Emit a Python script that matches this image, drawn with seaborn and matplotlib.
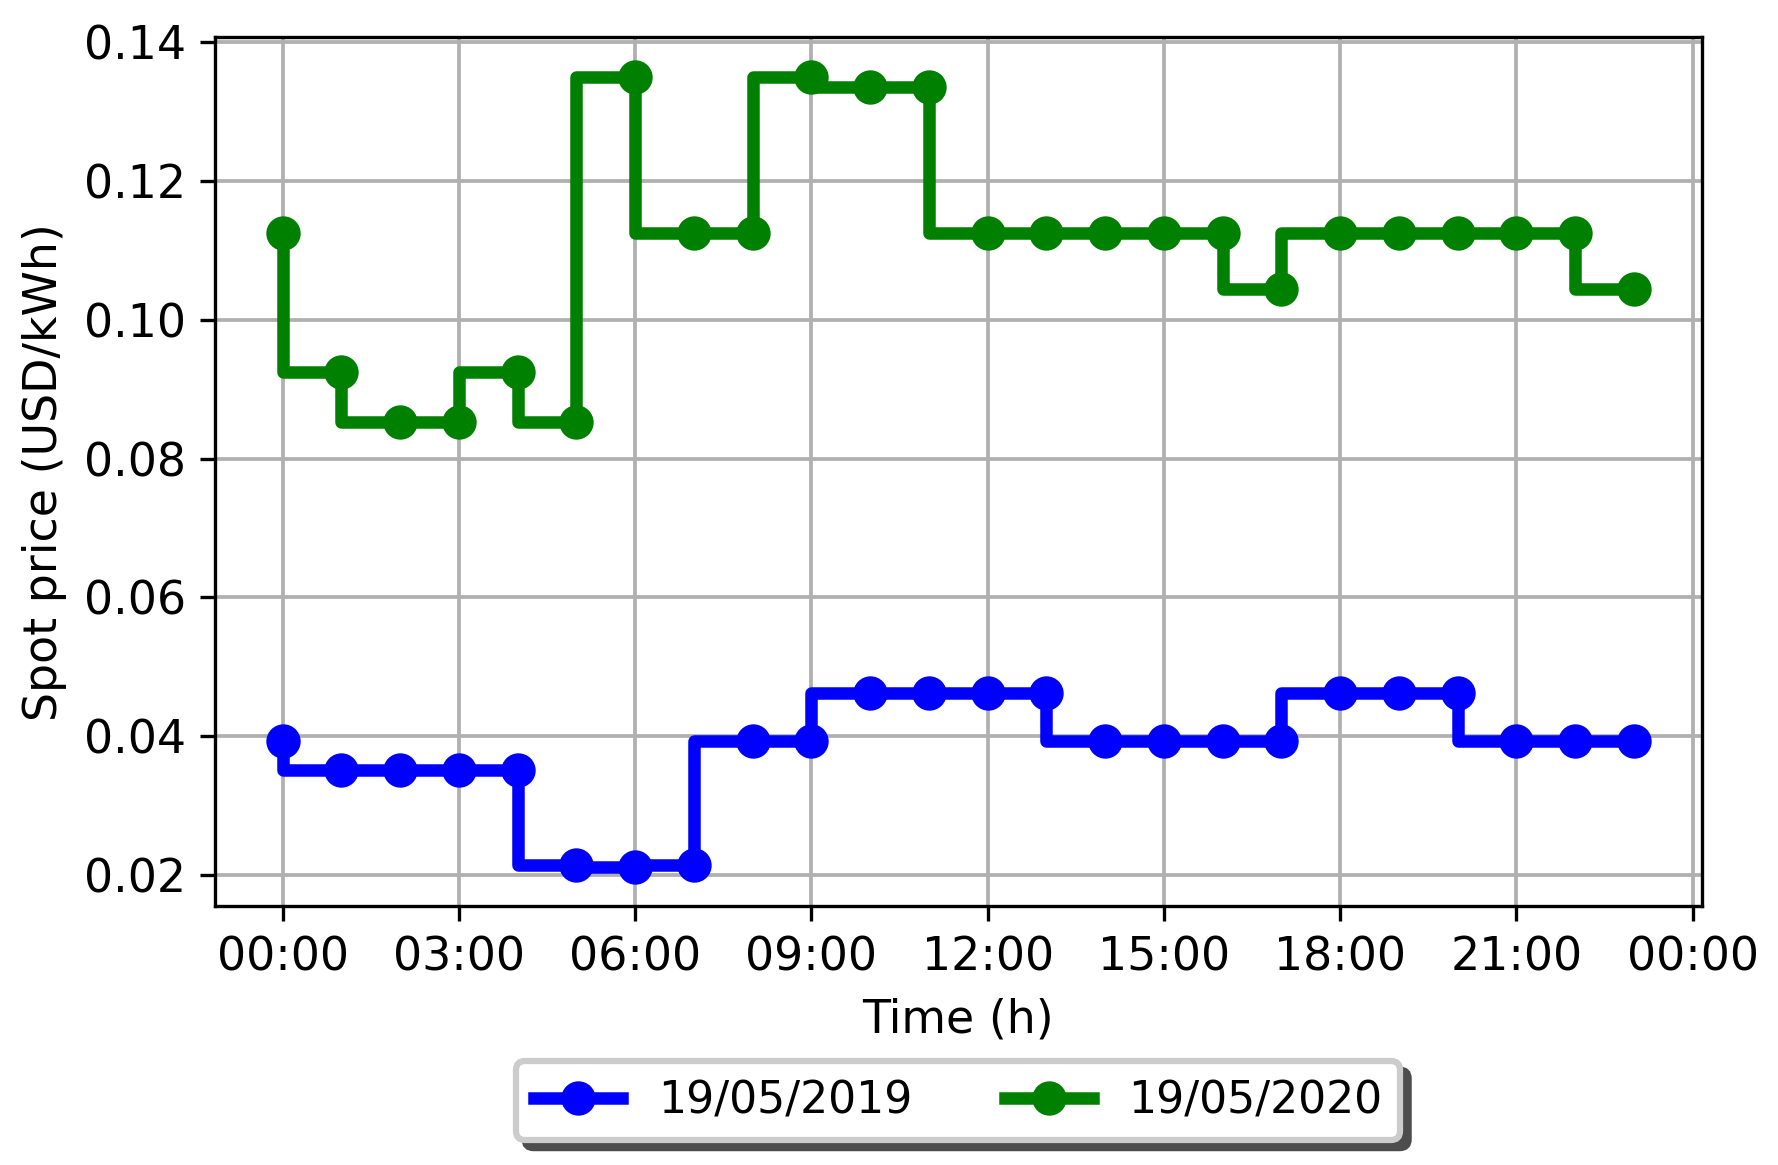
import numpy as np
import pandas as pd
import seaborn as sns
import matplotlib
matplotlib.use("Agg")
import matplotlib.pyplot as plt
import matplotlib.dates as mdates

hours = list(range(24))

# spot prices (USD/kWh)
price_2019 = [0.0393, 0.0351, 0.0351, 0.0351, 0.0351, 0.0215, 0.0212, 0.0215,
              0.0393, 0.0393, 0.0463, 0.0463, 0.0463, 0.0463, 0.0393, 0.0393,
              0.0393, 0.0393, 0.0463, 0.0463, 0.0463, 0.0393, 0.0393, 0.0393]
price_2020 = [0.1125, 0.0925, 0.0853, 0.0853, 0.0925, 0.0853, 0.1350, 0.1125,
              0.1125, 0.1350, 0.1335, 0.1335, 0.1125, 0.1125, 0.1125, 0.1125,
              0.1125, 0.1045, 0.1125, 0.1125, 0.1125, 0.1125, 0.1125, 0.1045]
labels = ["19/05/2019", "19/05/2020"]
colors = ["blue", "green"]

times = pd.Timestamp("2020-05-19") + pd.to_timedelta(hours, unit="h")

fig, ax = plt.subplots(figsize=(1778 / 300, 1165 / 300), dpi=300)
fig.subplots_adjust(left=0.121, right=0.957, top=0.968, bottom=0.222)

for prices, lab, col in zip([price_2019, price_2020], labels, colors):
    sns.lineplot(x=times, y=prices, ax=ax, color=col, label=lab,
                 marker="o", markersize=7.5, markeredgecolor=col,
                 linewidth=3, drawstyle="steps-pre")

ax.xaxis.set_major_locator(mdates.HourLocator(interval=3))
ax.xaxis.set_major_formatter(mdates.DateFormatter("%H:%M"))
ax.grid(True, color="#b0b0b0", linewidth=0.9)
ax.set_axisbelow(True)
ax.set_xlabel("Time (h)", fontsize=11)
ax.set_ylabel("Spot price (USD/kWh)", fontsize=11)
ax.tick_params(labelsize=11)
for s in ax.spines.values():
    s.set_color("black")

leg = ax.legend(loc="upper center", bbox_to_anchor=(0.5, -0.153), ncol=2,
                shadow={"color": "0.3", "alpha": 1}, fontsize=10.6, frameon=True,
                framealpha=1, columnspacing=2.1)
leg.get_frame().set_linewidth(1.5)
leg.get_frame().set_edgecolor("0.8")

plt.savefig("out.png", dpi=300)
